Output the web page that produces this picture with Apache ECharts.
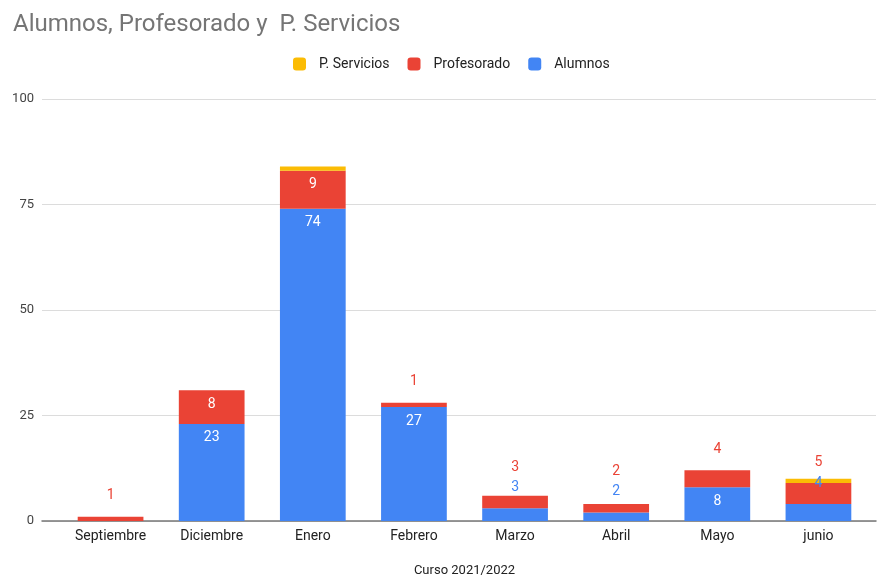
<!DOCTYPE html>
<html>
<head>
<meta charset="utf-8">
<script src="https://cdn.jsdelivr.net/npm/echarts@6/dist/echarts.min.js"></script>
<style>html,body{margin:0;padding:0;background:#fff}#c{width:877px;height:577px}</style>
</head>
<body>
<div id="c"></div>
<script>
const months = ['Septiembre','Diciembre','Enero','Febrero','Marzo','Abril','Mayo','junio'];
const alumnos = [0, 23, 74, 27, 3, 2, 8, 4];
const profesorado = [1, 8, 9, 1, 3, 2, 4, 5];
const servicios = [0, 0, 1, 0, 0, 0, 0, 1];
const yTicks = [0, 25, 50, 75, 100];

const C_BLUE = '#4285f4', C_RED = '#ea4335', C_YEL = '#fbbc04';
const FONT = 'Roboto, Arial, sans-serif';
const TOP = 99, BOTTOM = 56;
const pxPerUnit = (577 - TOP - BOTTOM) / (yTicks[yTicks.length-1] - yTicks[0]);
const INSIDE_MIN = 6;
const BASE_DIST = 14;

function inside(v){ return v >= INSIDE_MIN; }

const alumnosData = alumnos.map(v => {
  if (v === 0) return {value: v, label: {show: false}};
  if (inside(v)) return {value: v, label: {show: true, position: 'insideTop', distance: 7, color: '#fff'}};
  return {value: v, label: {show: true, position: 'top', distance: BASE_DIST, color: C_BLUE}};
});
const profData = profesorado.map((v, i) => {
  if (v === 0) return {value: v, label: {show: false}};
  if (inside(v)) return {value: v, label: {show: true, position: 'insideTop', distance: 7, color: '#fff'}};
  let d = BASE_DIST;
  const a = alumnos[i];
  if (a > 0 && !inside(a)) d += Math.max(0, 20 - v * pxPerUnit);
  return {value: v, label: {show: true, position: 'top', distance: d, color: C_RED}};
});

const chart = echarts.init(document.getElementById('c'), null, {renderer: 'canvas'});
chart.setOption({
  animation: false,
  textStyle: {fontFamily: FONT},
  title: {
    text: 'Alumnos, Profesorado y  P. Servicios',
    left: 8, top: 8,
    textStyle: {fontFamily: FONT, fontSize: 24, fontWeight: 'normal', color: '#757575'}
  },
  legend: {
    data: ['P. Servicios', 'Profesorado', 'Alumnos'],
    left: 288, top: 52,
    itemWidth: 13, itemHeight: 13, itemGap: 18,
    icon: 'roundRect',
    textStyle: {fontFamily: FONT, fontSize: 14, color: '#222', padding: [0, 0, 0, 8]}
  },
  grid: [
    {left: 42, right: 1, top: TOP, bottom: BOTTOM, outerBoundsMode: 'none', containLabel: false},
    {left: 60, right: 8, top: TOP, bottom: BOTTOM, outerBoundsMode: 'none', containLabel: false}
  ],
  xAxis: [
    {gridIndex: 0, type: 'category', data: [''],
     axisLine: {lineStyle: {color: '#777', width: 1.5}}, axisTick: {show: false}, axisLabel: {show: false}},
    {gridIndex: 1, type: 'category', data: months,
     axisLine: {show: false}, axisTick: {show: false},
     axisLabel: {color: '#222', fontSize: 14, fontFamily: FONT, margin: 8},
     name: 'Curso 2021/2022', nameLocation: 'middle', nameGap: 43,
     nameTextStyle: {color: '#222', fontSize: 13, fontFamily: FONT}}
  ],
  yAxis: [
    {gridIndex: 0, type: 'value', min: yTicks[0], max: yTicks[yTicks.length-1], interval: 25,
     axisLine: {show: false}, axisTick: {show: false},
     axisLabel: {color: '#444', fontSize: 13, fontFamily: FONT, margin: 8},
     splitLine: {lineStyle: {color: '#dcdcdc', width: 1}}},
    {gridIndex: 1, type: 'value', min: yTicks[0], max: yTicks[yTicks.length-1], show: false,
     splitLine: {show: false}}
  ],
  series: [
    {name: 'Alumnos', type: 'bar', stack: 'tot', xAxisIndex: 1, yAxisIndex: 1,
     barWidth: '65%', itemStyle: {color: C_BLUE}, data: alumnosData,
     label: {fontSize: 14, fontFamily: FONT}},
    {name: 'Profesorado', type: 'bar', stack: 'tot', xAxisIndex: 1, yAxisIndex: 1,
     barWidth: '65%', itemStyle: {color: C_RED}, data: profData,
     label: {fontSize: 14, fontFamily: FONT}},
    {name: 'P. Servicios', type: 'bar', stack: 'tot', xAxisIndex: 1, yAxisIndex: 1,
     barWidth: '65%', itemStyle: {color: C_YEL}, data: servicios,
     label: {show: false}}
  ]
});
</script>
</body>
</html>
